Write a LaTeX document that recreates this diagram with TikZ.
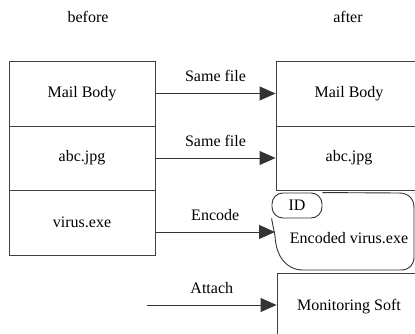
\documentclass[tikz,border=0pt]{standalone}
\usepackage{fontspec}
\setmainfont{Liberation Serif}
\newfontfamily\diagfont{Liberation Serif}
\usetikzlibrary{arrows.meta}
\begin{document}
\begin{tikzpicture}[x=1pt,y=-1pt,
  every node/.style={font=\diagfont\fontsize{16}{19}\selectfont, inner sep=0pt},
  box/.style={draw=black!75, line width=0.9pt, minimum width=146pt},
  arr/.style={draw=black!80, line width=0.9pt, -{Triangle[length=16pt,width=14pt]}},
  lbl/.style={anchor=center}]
\useasboundingbox (0,0) rectangle (415,334);
\clip (0,0) rectangle (415,334);
% headings
\node[lbl] (hb) at (88,17) {before};
\node[lbl] (ha) at (348,17) {after};
% left column
\node[box, minimum height=65pt] (lm) at (82,93.5) {Mail Body};
\node[box, minimum height=64pt] (la) at (82,158) {abc.jpg};
\node[box, minimum height=65pt] (lv) at (82,222.5) {virus.exe};
% right column
\node[box, minimum height=65pt] (rm) at (349,93.5) {Mail Body};
\node[box, minimum height=64pt] (ra) at (349,158) {abc.jpg};
\node[box, minimum height=67pt, minimum width=144pt] (rs) at (349,306.5) {Monitoring Soft};
% encoded shape
\node (enc) at (349,238) {Encoded virus.exe};
\node[draw=black!80, line width=0.9pt, rounded corners=11pt, minimum width=50pt, minimum height=25pt] (id) at (297,205.5) {ID};
\draw[black!80, line width=0.9pt] (id.north east) -- (399,193)
  .. controls (409,193) and (414,199) .. (414,208) -- (414,257)
  .. controls (414,265) and (409,270) .. (401,270) -- (303,270)
  .. controls (286,270) and (276,256) .. (275,236) -- (id.south west);
\coordinate (encin) at (275,232);
\coordinate (att0) at (147,305);
% connectors
\draw[arr] (lm.east) -- (rm.west) node[midway, above=11pt] (l1) {Same file};
\draw[arr] (la.east) -- (ra.west) node[midway, above=11pt] (l2) {Same file};
\draw[arr] (lv.east |- encin) -- (encin) node[midway, above=11pt] (l3) {Encode};
\draw[arr] (att0) -- (att0 -| rs.west) node[midway, above=11pt] (l4) {Attach};
\end{tikzpicture}
\end{document}
